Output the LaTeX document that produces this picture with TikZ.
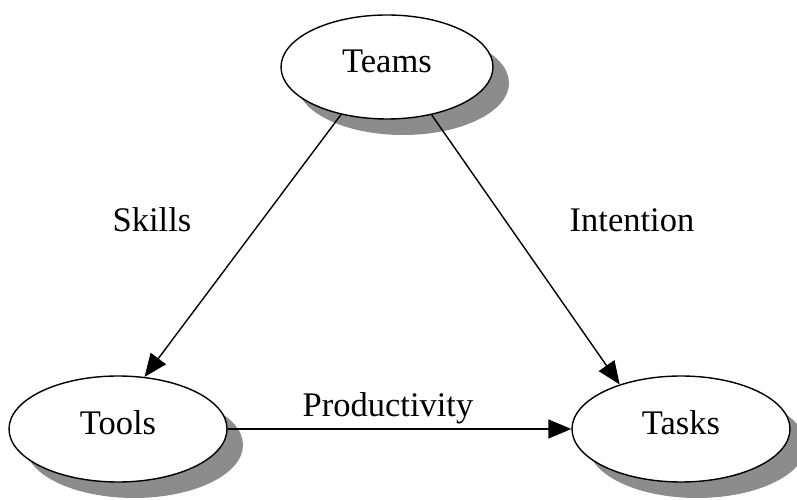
\documentclass[tikz,border=0pt]{standalone}
\usepackage{fontspec}
\setmainfont{Liberation Serif}
\usetikzlibrary{shapes.geometric,shadows,arrows.meta}
\begin{document}
\begin{tikzpicture}[x=1pt,y=1pt,
  every node/.style={font=\fontsize{34.5}{40}\selectfont},
  entity/.style={ellipse, draw=black, line width=1.4pt, fill=white, inner sep=0pt,
    minimum width=218pt, minimum height=106pt, text height=23pt, text depth=12pt,
    drop shadow={shadow xshift=16pt, shadow yshift=-16pt, fill=black!45, opacity=1}},
  link/.style={draw=black, line width=1.4pt, -{Triangle[length=23pt,width=19pt]}}]
\useasboundingbox (0,0) rectangle (797,500);
% the three entities
\node[entity, minimum width=212pt, minimum height=104pt] (teams) at (387,433) {Teams};
\node[entity] (tools) at (118,71) {Tools};
\node[entity] (tasks) at (681,71) {Tasks};
% relations between them
\draw[link] (teams.226) -- (tools.63);
\draw[link] (teams.313) -- (tasks.144);
\draw[link] (tools.east) -- (tasks.west);
% relation labels
\node (skills) at (152,280) {Skills};
\node (intention) at (632,280) {Intention};
\node (productivity) at (388,92) {Productivity};
\end{tikzpicture}
\end{document}
